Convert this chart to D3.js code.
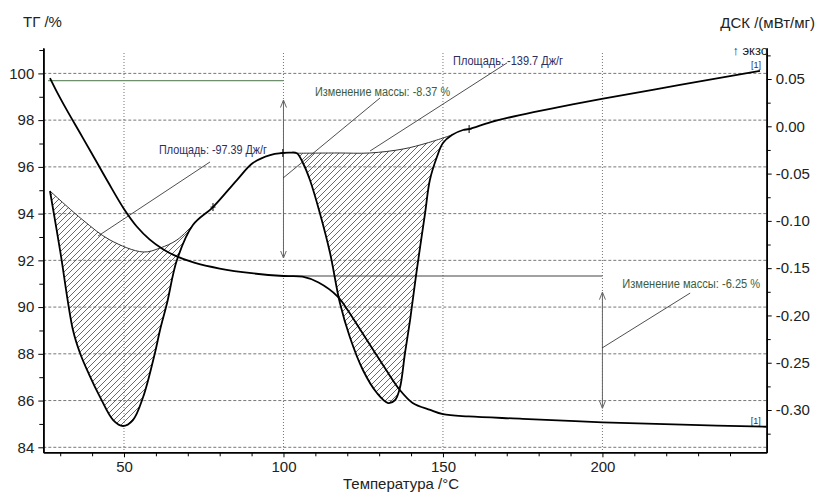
<!DOCTYPE html>
<html><head><meta charset="utf-8">
<script src="https://cdn.jsdelivr.net/npm/d3@7"></script>
<style>
body{margin:0;background:#fff}
svg{display:block}
text{font-family:"Liberation Sans",Arial,sans-serif}
</style>
</head><body>
<svg id="c" width="818" height="493"></svg>
<script>
// ---- data ----
const tgTemp  = [26.8, 29, 32, 36, 40, 45, 50, 54, 58, 62, 66, 72, 80, 90, 100, 106, 111, 117, 120, 124, 128, 132, 136.5, 140.5, 146, 150, 158, 175, 200, 225, 251.5];
const tgValue = [99.8, 99.2, 98.45, 97.5, 96.55, 95.35, 94.2, 93.45, 92.9, 92.5, 92.2, 91.9, 91.65, 91.45, 91.33, 91.3, 91.05, 90.45, 89.9, 89.05, 88.2, 87.35, 86.45, 85.9, 85.6, 85.42, 85.32, 85.22, 85.07, 84.97, 84.88];

const dscTemp  = [26.8, 30, 34, 36.2, 39, 42.5, 46.6, 49.7, 52.8, 56, 59.7, 61.3, 63.5, 66.6, 71.6, 77.9, 85.4, 90.4, 95.8, 99.8, 102, 104.2, 106.1, 108.3, 111.4, 114.6, 117.7, 120.8, 124.9, 129.3, 132.8, 135, 136.5, 138.1, 139.7, 141.8, 144.4, 145.9, 148.1, 150, 152.8, 156.3, 158.2, 165, 174.1, 186.7, 199.8, 224.3, 249.4];
const dscValue = [-0.0684, -0.132, -0.2154, -0.2397, -0.262, -0.2863, -0.3106, -0.3169, -0.3106, -0.2863, -0.2397, -0.2154, -0.1869, -0.1414, -0.1044, -0.0854, -0.0568, -0.0388, -0.0304, -0.0282, -0.0278, -0.0285, -0.0388, -0.0568, -0.0917, -0.134, -0.1869, -0.2228, -0.2577, -0.282, -0.2926, -0.2894, -0.2767, -0.2397, -0.2048, -0.152, -0.0917, -0.0568, -0.0325, -0.0177, -0.0092, -0.0039, -0.0029, 0.0045, 0.0119, 0.0205, 0.0289, 0.0437, 0.0585];

const base1Temp  = [26.8, 37.1, 45.6, 56, 61.3, 66.6, 71.6];
const base1Value = [-0.0684, -0.0991, -0.1202, -0.1329, -0.1287, -0.1202, -0.1044];
const base2Temp  = [104.2, 116.8, 127.1, 137.5, 145, 152.8];
const base2Value = [-0.0285, -0.0282, -0.0282, -0.024, -0.0177, -0.0092];

const markerTemps = [77.9, 99.8, 158.2];

const xTicks = [50, 100, 150, 200];
const xMinorTicks = [30, 40, 60, 70, 80, 90, 110, 120, 130, 140, 160, 170, 180, 190, 210, 220, 230, 240];
const tgTicks = [84, 86, 88, 90, 92, 94, 96, 98, 100];
const tgMinorTicks = [85, 87, 89, 91, 93, 95, 97, 99, 101];
const dscTicks = [-0.30, -0.25, -0.20, -0.15, -0.10, -0.05, 0.00, 0.05];
const dscMinorTicks = [-0.325, -0.275, -0.225, -0.175, -0.125, -0.075, -0.025, 0.025, 0.075];

// annotations (temperature / TG % units)
const massChanges = [
  {label: "Изменение массы: -8.37 %", level0: 99.69, t0: 26.2, t1: 100, tArrow: 100, arrTop: 98.86, arrBot: 92.1,
   lead: [[99.86, 95.52], [130.28, 98.95]], text: [109.9, 99.03], width: 135, lineColor: "#6f8f6f"},
  {label: "Изменение массы: -6.25 %", level0: 91.33, t0: 100, t1: 200, tArrow: 200, arrTop: 90.64, arrBot: 85.67,
   lead: [[199.9, 88.25], [227.5, 90.6]], text: [206.2, 90.82], width: 138, lineColor: "#444"}
];
const areaLabels = [
  {label: "Площадь: -97.39 Дж/г", lead: [[41.85, 93.04], [76.97, 96.21]], text: [60.98, 96.55], width: 108},
  {label: "Площадь: -139.7 Дж/г", lead: [[127.14, 96.68], [170.1, 100.45]], text: [153.17, 100.36], width: 110}
];

// ---- layout ----
const svg = d3.select("#c");
const P = {left: 43.3, right: 766.7, top: 48, bottom: 452.3};
const x  = d3.scaleLinear().domain([24.7, 251.5]).range([P.left, P.right]);
const yL = d3.scaleLinear().domain([83.786, 101.087]).range([P.bottom, P.top]);
const yR = d3.scaleLinear().domain([-0.3447, 0.0828]).range([P.bottom, P.top]);

const navy = "#2e2e5e", green = "#3d5e3d";

// hatch pattern
const defs = svg.append("defs");
const pat = defs.append("pattern").attr("id", "hatch").attr("patternUnits", "userSpaceOnUse")
  .attr("width", 6).attr("height", 6);
pat.append("path").attr("d", "M-1,1 L1,-1 M0,6 L6,0 M5,7 L7,5")
  .attr("stroke", "#444").attr("stroke-width", 0.8);
const mk = defs.append("marker").attr("id", "arr").attr("viewBox", "0 -4 8 8")
  .attr("refX", 7.5).attr("refY", 0).attr("markerWidth", 8).attr("markerHeight", 8)
  .attr("markerUnits", "userSpaceOnUse").attr("orient", "auto-start-reverse");
mk.append("path").attr("d", "M0,-3L7.5,0L0,3").attr("fill", "none").attr("stroke", "#666").attr("stroke-width", 1);

// grid
const grid = svg.append("g");
grid.selectAll("line.h").data(tgTicks).join("line")
  .attr("x1", P.left).attr("x2", P.right).attr("y1", d => yL(d)).attr("y2", d => yL(d))
  .attr("stroke", "#555").attr("stroke-width", 0.8).attr("stroke-dasharray", "3,2");
grid.selectAll("line.v").data(xTicks).join("line")
  .attr("y1", P.top + 5).attr("y2", P.bottom).attr("x1", d => x(d)).attr("x2", d => x(d))
  .attr("stroke", "#666").attr("stroke-width", 0.9).attr("stroke-dasharray", "1,2");

// axes
function styleAxis(g) {
  g.selectAll("text").attr("font-size", 15).attr("fill", "#222")
    .style("font-family", '"Liberation Sans",Arial,sans-serif');
  g.select(".domain").attr("stroke", "#000").attr("stroke-width", 1.6);
  g.selectAll(".tick line").attr("stroke", "#000").attr("stroke-width", 1);
}
svg.append("g").attr("transform", `translate(0,${P.bottom})`)
  .call(d3.axisBottom(x).tickValues(xTicks).tickSize(5).tickSizeOuter(0).tickPadding(4).tickFormat(d3.format("d")))
  .call(styleAxis);
svg.append("g").attr("transform", `translate(0,${P.bottom})`)
  .call(d3.axisBottom(x).tickValues(xMinorTicks).tickSize(4).tickSizeOuter(0).tickFormat(""))
  .call(styleAxis);
svg.append("g").attr("transform", `translate(${P.left},0)`)
  .call(d3.axisLeft(yL).tickValues(tgTicks).tickSize(5).tickSizeOuter(0).tickPadding(4).tickFormat(d3.format("d")))
  .call(styleAxis);
svg.append("g").attr("transform", `translate(${P.left},0)`)
  .call(d3.axisLeft(yL).tickValues(tgMinorTicks).tickSize(4).tickSizeOuter(0).tickFormat(""))
  .call(styleAxis);
svg.append("g").attr("transform", `translate(${P.right},0)`)
  .call(d3.axisRight(yR).tickValues(dscTicks).tickSize(5).tickSizeOuter(0).tickPadding(4).tickFormat(d3.format(".2f")))
  .call(styleAxis);
svg.append("g").attr("transform", `translate(${P.right},0)`)
  .call(d3.axisRight(yR).tickValues(dscMinorTicks).tickSize(4).tickSizeOuter(0).tickFormat(""))
  .call(styleAxis);
svg.selectAll(".tick text").each(function(){ const t=d3.select(this); t.text(t.text().replace("−","-")); });

// hatched areas
const dscPts = dscTemp.map((t, i) => [t, dscValue[i]]);
const lineR = d3.line().x(d => x(d[0])).y(d => yR(d[1])).curve(d3.curveCatmullRom.alpha(0.5));
function hatchPath(bT, bV) {
  const t0 = bT[0], t1 = bT[bT.length - 1];
  const seg = dscPts.filter(d => d[0] >= t0 - 1e-9 && d[0] <= t1 + 1e-9);
  const base = bT.map((t, i) => [t, bV[i]]).reverse();
  return lineR(seg) + lineR(base).replace(/^M/, "L") + "Z";
}
svg.append("path").attr("d", hatchPath(base1Temp, base1Value)).attr("fill", "url(#hatch)").attr("stroke", "none");
svg.append("path").attr("d", hatchPath(base2Temp, base2Value)).attr("fill", "url(#hatch)").attr("stroke", "none");
[[base1Temp, base1Value], [base2Temp, base2Value]].forEach(([bt, bv]) => {
  svg.append("path").attr("d", lineR(bt.map((t, i) => [t, bv[i]]))).attr("fill", "none")
    .attr("stroke", "#333").attr("stroke-width", 1);
});

// annotations: mass change
massChanges.forEach(m => {
  svg.append("line").attr("x1", x(m.t0)).attr("x2", x(m.t1)).attr("y1", yL(m.level0)).attr("y2", yL(m.level0))
    .attr("stroke", m.lineColor).attr("stroke-width", 1.2);
  svg.append("line").attr("x1", x(m.tArrow)).attr("x2", x(m.tArrow)).attr("y1", yL(m.arrTop)).attr("y2", yL(m.arrBot))
    .attr("stroke", "#666").attr("stroke-width", 1)
    .attr("marker-start", "url(#arr)").attr("marker-end", "url(#arr)");
  svg.append("line").attr("x1", x(m.lead[0][0])).attr("y1", yL(m.lead[0][1]))
    .attr("x2", x(m.lead[1][0])).attr("y2", yL(m.lead[1][1])).attr("stroke", "#222").attr("stroke-width", 0.8);
  svg.append("text").attr("x", x(m.text[0])).attr("y", yL(m.text[1])).text(m.label)
    .attr("font-size", 12).attr("fill", green).attr("textLength", m.width).attr("lengthAdjust", "spacingAndGlyphs");
});
areaLabels.forEach(a => {
  svg.append("line").attr("x1", x(a.lead[0][0])).attr("y1", yL(a.lead[0][1]))
    .attr("x2", x(a.lead[1][0])).attr("y2", yL(a.lead[1][1])).attr("stroke", "#222").attr("stroke-width", 0.8);
  svg.append("text").attr("x", x(a.text[0])).attr("y", yL(a.text[1])).text(a.label)
    .attr("font-size", 12).attr("fill", navy).attr("textLength", a.width).attr("lengthAdjust", "spacingAndGlyphs");
});

// curves
const lineL = d3.line().x(d => x(d[0])).y(d => yL(d[1])).curve(d3.curveCatmullRom.alpha(0.5));
svg.append("path").attr("d", lineL(tgTemp.map((t, i) => [t, tgValue[i]])))
  .attr("fill", "none").attr("stroke", "#000").attr("stroke-width", 1.8);
svg.append("path").attr("d", lineR(dscPts))
  .attr("fill", "none").attr("stroke", "#000").attr("stroke-width", 1.8);

// DSC markers
markerTemps.forEach(t => {
  const i = dscTemp.indexOf(t);
  const cx = x(t), cy = yR(dscValue[i]);
  svg.append("path").attr("d", `M${cx},${cy - 4}V${cy + 4}M${cx - 2.5},${cy}H${cx + 2.5}`)
    .attr("stroke", "#000").attr("stroke-width", 1);
});

// end labels
svg.append("text").attr("x", x(tgTemp[tgTemp.length - 1]) - 6).attr("y", yL(tgValue[tgValue.length - 1]) - 3)
  .attr("text-anchor", "end").attr("font-size", 9).attr("fill", navy).text("[1]");
svg.append("text").attr("x", x(dscTemp[dscTemp.length - 1]) + 1).attr("y", yR(dscValue[dscValue.length - 1]) - 3)
  .attr("text-anchor", "end").attr("font-size", 9).attr("fill", navy).text("[1]");

// titles
svg.append("text").attr("x", 23).attr("y", 27).attr("font-size", 15).attr("fill", "#222").text("ТГ /%");
svg.append("text").attr("x", 815).attr("y", 28).attr("text-anchor", "end").attr("font-size", 15).attr("fill", "#222").text("ДСК /(мВт/мг)");
svg.append("text").attr("x", 401).attr("y", 489).attr("text-anchor", "middle").attr("font-size", 15).attr("fill", "#222").text("Температура /°C");
svg.append("text").attr("x", 768).attr("y", 55).attr("text-anchor", "end").attr("font-size", 13).attr("fill", "#222").text("↑ экзо");
</script>
</body></html>
